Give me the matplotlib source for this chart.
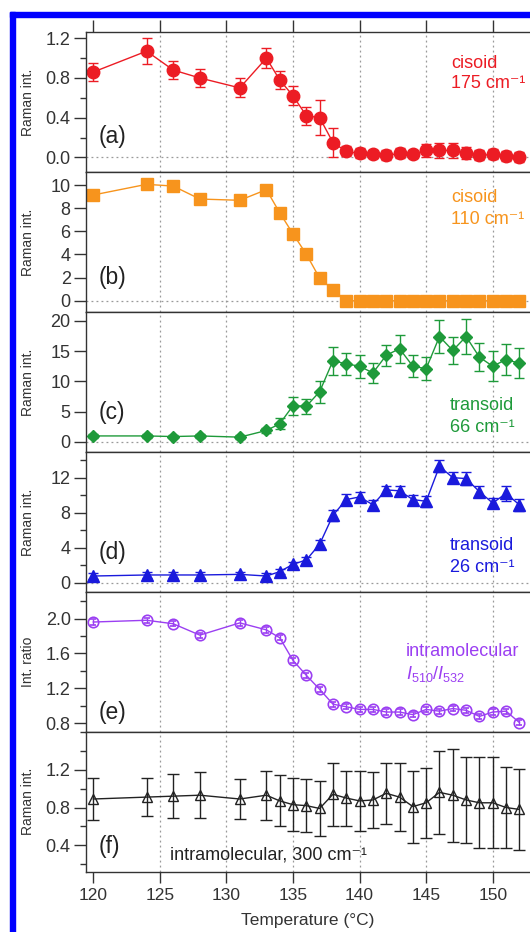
import matplotlib
matplotlib.use('Agg')
import matplotlib.pyplot as plt
from matplotlib.patches import Rectangle
from matplotlib.ticker import MultipleLocator

plt.rcParams['font.family'] = ['Liberation Sans', 'DejaVu Sans']
plt.rcParams['mathtext.fontset'] = 'custom'
plt.rcParams['mathtext.rm'] = 'Liberation Sans'
plt.rcParams['mathtext.it'] = 'Liberation Sans:italic'

# DATA
temps = [120, 124, 126, 128, 131, 133, 134, 135, 136, 137, 138, 139, 140,
         141, 142, 143, 144, 145, 146, 147, 148, 149, 150, 151, 152]

a_val = [0.86, 1.07, 0.88, 0.80, 0.70, 1.00, 0.78, 0.62, 0.42, 0.40, 0.15, 0.06, 0.04,
         0.03, 0.02, 0.04, 0.03, 0.07, 0.07, 0.07, 0.04, 0.02, 0.03, 0.01, 0.0]
a_err = [0.09, 0.13, 0.095, 0.09, 0.095, 0.10, 0.09, 0.095, 0.09, 0.175, 0.15, 0.05, 0.05,
         0.04, 0.05, 0.05, 0.04, 0.065, 0.075, 0.075, 0.06, 0.05, 0.05, 0.05, 0.05]

b_val = [9.14, 10.06, 9.91, 8.79, 8.68, 9.6, 7.6, 5.78, 4.02, 1.95, 0.95, 0, 0,
         0, 0, 0, 0, 0, 0, 0, 0, 0, 0, 0, 0]

c_val = [1.0, 1.0, 0.9, 1.0, 0.8, 1.9, 3.0, 6.0, 5.9, 8.3, 13.4, 12.9, 12.5,
         11.4, 14.3, 15.4, 12.5, 12.1, 17.4, 15.1, 17.4, 14.0, 12.5, 13.6, 13.0]
c_err = [0.3, 0.3, 0.3, 0.3, 0.3, 0.4, 0.9, 1.5, 1.2, 1.8, 2.3, 1.8, 1.9,
         1.6, 1.7, 2.3, 1.8, 1.9, 2.7, 2.3, 2.9, 2.3, 2.5, 2.5, 2.5]

d_val = [0.76, 0.88, 0.88, 0.88, 0.95, 0.76, 1.26, 2.1, 2.6, 4.4, 7.7, 9.5, 9.8,
         8.9, 10.6, 10.5, 9.5, 9.3, 13.3, 12.0, 11.9, 10.4, 9.1, 10.2, 8.9]
d_err = [0.3, 0.3, 0.3, 0.3, 0.3, 0.3, 0.3, 0.3, 0.3, 0.5, 0.6, 0.6, 0.6,
         0.5, 0.5, 0.6, 0.5, 0.6, 0.7, 0.6, 0.75, 0.6, 0.6, 0.9, 0.7]

e_val = [1.96, 1.98, 1.94, 1.81, 1.95, 1.87, 1.78, 1.52, 1.35, 1.19, 1.02, 0.99, 0.96,
         0.96, 0.93, 0.93, 0.90, 0.96, 0.94, 0.97, 0.95, 0.88, 0.93, 0.94, 0.81]
e_err = [0.03, 0.03, 0.03, 0.03, 0.03, 0.03, 0.03, 0.03, 0.03, 0.03, 0.03, 0.03, 0.03,
         0.03, 0.03, 0.03, 0.03, 0.03, 0.03, 0.03, 0.03, 0.03, 0.03, 0.03, 0.03]

f_val = [0.89, 0.91, 0.92, 0.93, 0.89, 0.93, 0.87, 0.83, 0.82, 0.79, 0.94, 0.90, 0.87,
         0.88, 0.95, 0.91, 0.81, 0.85, 0.96, 0.93, 0.88, 0.85, 0.85, 0.80, 0.78]
f_err = [0.22, 0.20, 0.23, 0.24, 0.21, 0.26, 0.27, 0.28, 0.28, 0.29, 0.33, 0.29, 0.32,
         0.30, 0.32, 0.36, 0.38, 0.37, 0.44, 0.49, 0.45, 0.48, 0.48, 0.43, 0.43]

xticks = [120, 125, 130, 135, 140, 145, 150]
grid_x = [125, 130, 135, 140, 145, 150]

RED = '#ec1c24'
ORANGE = '#f7941d'
GREEN = '#1e9a3a'
BLUE = '#1a1adc'
PURPLE = '#9b3ff2'
DARK = '#333333'

W, H = 530, 932
fig = plt.figure(figsize=(5.3, 9.32), dpi=100)

# panel bounds in pixels (top, bottom)
bounds = [(32.3, 172.3), (172.3, 312.3), (312.3, 452.3),
          (452.3, 592.3), (592.3, 731.7), (731.7, 871.7)]
left_px = 86

axes = []
for top, bot in bounds:
    ax = fig.add_axes([left_px / W, 1 - bot / H, 1 - left_px / W, (bot - top) / H])
    ax.set_xlim(119.45, 152.8)
    ax.spines['right'].set_visible(False)
    for s in ['left', 'top', 'bottom']:
        ax.spines[s].set_color(DARK)
        ax.spines[s].set_linewidth(1.0)
    ax.tick_params(axis='y', which='major', direction='out', length=9, width=1,
                   color=DARK, labelcolor=DARK, labelsize=13, pad=2)
    ax.tick_params(axis='y', which='minor', direction='out', length=4.5, width=1, color=DARK)
    ax.tick_params(axis='x', which='both', bottom=False, top=False, labelbottom=False)
    for gx in grid_x:
        ax.axvline(gx, color='#999999', lw=0.9, ls=(0, (1.5, 2.5)), zorder=0)
    axes.append(ax)

ax_a, ax_b, ax_c, ax_d, ax_e, ax_f = axes

# top ticks on first panel, bottom ticks on last
ax_a.set_xticks(xticks)
ax_a.tick_params(axis='x', which='major', top=True, direction='out', length=9, width=1, color=DARK)
ax_f.set_xticks(xticks)
ax_f.tick_params(axis='x', which='major', bottom=True, labelbottom=True, direction='out',
                 length=8, width=1, color=DARK, labelcolor=DARK, labelsize=12.5, pad=4)

zero_kw = dict(color='#999999', lw=0.9, ls=(0, (1.5, 2.5)), zorder=0)

# (a)
ax_a.errorbar(temps, a_val, yerr=a_err, color=RED, marker='o', ms=9, lw=1, capsize=3.5,
              elinewidth=1, capthick=1)
ax_a.axhline(0, **zero_kw)
ax_a.set_ylim(-0.15, 1.26)
ax_a.set_yticks([0.0, 0.4, 0.8, 1.2])
ax_a.set_yticklabels(['0.0', '0.4', '0.8', '1.2'])
ax_a.yaxis.set_minor_locator(MultipleLocator(0.2))

# (b)
ax_b.plot(temps, b_val, color=ORANGE, marker='s', ms=8, lw=1)
ax_b.axhline(0, **zero_kw)
ax_b.set_ylim(-1.0, 11.1)
ax_b.set_yticks([0, 2, 4, 6, 8, 10])

# (c)
ax_c.errorbar(temps, c_val, yerr=c_err, color=GREEN, marker='D', ms=6.5, lw=1, capsize=3.5,
              elinewidth=1, capthick=1)
ax_c.axhline(0, **zero_kw)
ax_c.set_ylim(-1.7, 21.4)
ax_c.set_yticks([0, 5, 10, 15, 20])

# (d)
ax_d.errorbar(temps, d_val, yerr=d_err, color=BLUE, marker='^', ms=8, lw=1, capsize=3.5,
              elinewidth=1, capthick=1)
ax_d.axhline(0, **zero_kw)
ax_d.set_ylim(-1.1, 14.9)
ax_d.set_yticks([0, 4, 8, 12])
ax_d.yaxis.set_minor_locator(MultipleLocator(2))

# (e)
ax_e.errorbar(temps, e_val, yerr=e_err, color=PURPLE, marker='o', ms=7.5, mfc='none',
              mew=1.2, lw=1, capsize=2.5, elinewidth=1, capthick=1)
ax_e.set_ylim(0.705, 2.30)
ax_e.set_yticks([0.8, 1.2, 1.6, 2.0])
ax_e.set_yticklabels(['0.8', '1.2', '1.6', '2.0'])
ax_e.yaxis.set_minor_locator(MultipleLocator(0.2))

# (f)
ax_f.errorbar(temps, f_val, yerr=f_err, color='#222222', marker='^', ms=7, mfc='none',
              mew=1, lw=1, capsize=4, elinewidth=1, capthick=1)
ax_f.set_ylim(0.123, 1.60)
ax_f.set_yticks([0.4, 0.8, 1.2])
ax_f.set_yticklabels(['0.4', '0.8', '1.2'])
ax_f.yaxis.set_minor_locator(MultipleLocator(0.2))

# y labels
ylabels = ['Raman int.', 'Raman int.', 'Raman int.', 'Raman int.', 'Int. ratio', 'Raman int.']
for ax, lab in zip(axes, ylabels):
    ax.set_ylabel(lab, fontsize=10, color=DARK)
    ax.yaxis.set_label_coords(-0.115, 0.5)

# panel letters
def fy(py):
    return 1 - py / H

letters = [('(a)', 137), ('(b)', 277), ('(c)', 413), ('(d)', 553), ('(e)', 713), ('(f)', 847)]
for lab, py in letters:
    fig.text(99 / W, fy(py), lab, fontsize=16.5, color='#222222', va='center', ha='left')

# annotations
ann = 13
fig.text(451 / W, fy(63), 'cisoid', fontsize=ann, color=RED, va='center')
fig.text(451 / W, fy(83), '175 cm⁻¹', fontsize=ann, color=RED, va='center')
fig.text(451 / W, fy(197), 'cisoid', fontsize=ann, color=ORANGE, va='center')
fig.text(451 / W, fy(220), '110 cm⁻¹', fontsize=ann, color=ORANGE, va='center')
fig.text(450 / W, fy(406), 'transoid', fontsize=ann, color=GREEN, va='center')
fig.text(450 / W, fy(428), '66 cm⁻¹', fontsize=ann, color=GREEN, va='center')
fig.text(450 / W, fy(545), 'transoid', fontsize=ann, color=BLUE, va='center')
fig.text(450 / W, fy(567), '26 cm⁻¹', fontsize=ann, color=BLUE, va='center')
fig.text(406 / W, fy(651), 'intramolecular', fontsize=ann, color=PURPLE, va='center')
fig.text(406 / W, fy(674), '$I_{510}/I_{532}$', fontsize=ann, color=PURPLE, va='center')
fig.text(170 / W, fy(855), 'intramolecular, 300 cm⁻¹', fontsize=ann, color='#222222',
         va='center')

fig.text(308 / W, fy(921), 'Temperature (°C)', fontsize=12.5, color=DARK, ha='center', va='center')

# blue frame
fig.patches.append(Rectangle((10 / W, 0), 5 / W, 1 - 12 / H, transform=fig.transFigure,
                             color='#0000ff', zorder=10))
fig.patches.append(Rectangle((10 / W, 1 - 17 / H), 1, 5 / H, transform=fig.transFigure,
                             color='#0000ff', zorder=10))

fig.savefig('out.png', dpi=100)
